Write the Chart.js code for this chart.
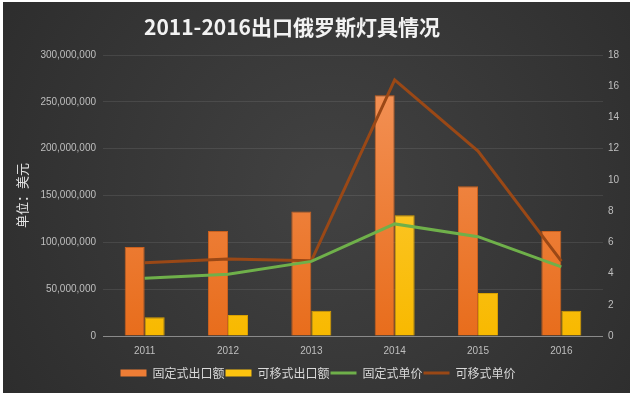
<!DOCTYPE html>
<html>
<head>
<meta charset="utf-8">
<script src="https://cdn.jsdelivr.net/npm/chart.js@4"></script>
<style>
html,body{margin:0;padding:0;background:#fff;}
#wrap{width:636px;height:399px;position:relative;}
</style>
</head>
<body>
<div id="wrap"><canvas id="c"></canvas></div>
<script>
const titleText = '2011-2016出口俄罗斯灯具情况';
const years = ['2011', '2012', '2013', '2014', '2015', '2016'];
const fixedExport = [95000000, 112000000, 133000000, 257000000, 160000000, 112000000];
const mobileExport = [20000000, 22500000, 27000000, 129000000, 46000000, 27000000];
const fixedPrice = [3.7, 3.95, 4.78, 7.18, 6.36, 4.43];
const mobilePrice = [4.7, 4.93, 4.82, 16.4, 11.85, 4.8];
const seriesNames = ['固定式出口额', '可移式出口额', '固定式单价', '可移式单价'];
const axisTitle = '单位：美元';

const FONT = "'Noto Sans CJK SC', 'Noto Sans', sans-serif";
const TICKFONT = "'Liberation Sans', 'Noto Sans', sans-serif";

function vGrad(ctx, top, bottom) {
  const chart = ctx.chart;
  const area = chart.chartArea;
  if (!area) return bottom;
  const g = chart.ctx.createLinearGradient(0, area.top, 0, area.bottom);
  g.addColorStop(0, top);
  g.addColorStop(1, bottom);
  return g;
}

const bgPlugin = {
  id: 'bg',
  beforeDraw(chart) {
    const c = chart.ctx;
    c.save();
    c.fillStyle = '#ffffff';
    c.fillRect(0, 0, chart.width, chart.height);
    const g = c.createRadialGradient(330, 190, 20, 330, 190, 420);
    g.addColorStop(0, '#414141');
    g.addColorStop(1, '#2b2b2b');
    c.fillStyle = g;
    c.fillRect(3, 2, 627, 391);
    c.restore();
  }
};

const titlePlugin = {
  id: 'customTitle',
  afterDraw(chart) {
    const c = chart.ctx;
    c.save();
    c.font = "bold 21px " + FONT;
    c.fillStyle = '#f2f2f2';
    c.textAlign = 'center';
    c.textBaseline = 'middle';
    c.fillText(titleText, 292, 27);
    c.restore();
  }
};

new Chart(document.getElementById('c'), {
  type: 'bar',
  data: {
    labels: years,
    datasets: [
      {
        type: 'bar', label: seriesNames[0], data: fixedExport, yAxisID: 'y', order: 2,
        backgroundColor: (ctx) => vGrad(ctx, '#f4955c', '#e86d1c'),
        borderColor: '#c9601e', borderWidth: 1,
        barPercentage: 1, categoryPercentage: 0.48
      },
      {
        type: 'bar', label: seriesNames[1], data: mobileExport, yAxisID: 'y', order: 2,
        backgroundColor: (ctx) => vGrad(ctx, '#ffd24a', '#f8b900'),
        borderColor: '#d9a000', borderWidth: 1,
        barPercentage: 1, categoryPercentage: 0.48
      },
      {
        type: 'line', label: seriesNames[2], data: fixedPrice, yAxisID: 'y1', order: 0,
        borderColor: '#6fb04a', backgroundColor: '#6fb04a', borderWidth: 3,
        pointRadius: 0, tension: 0
      },
      {
        type: 'line', label: seriesNames[3], data: mobilePrice, yAxisID: 'y1', order: 0,
        borderColor: '#9a4816', backgroundColor: '#9a4816', borderWidth: 3,
        pointRadius: 0, tension: 0
      }
    ]
  },
  options: {
    responsive: true,
    maintainAspectRatio: false,
    animation: false,
    layout: { padding: { top: 55, bottom: 10, left: 0, right: 0 } },
    plugins: {
      title: { display: false },
      tooltip: { enabled: false },
      legend: {
        position: 'bottom',
        labels: {
          color: '#d9d9d9',
          font: { family: FONT, size: 12 },
          usePointStyle: true,
          pointStyleWidth: 26,
          boxHeight: 7,
          padding: 1,
          sort: (a, b) => a.datasetIndex - b.datasetIndex,
          generateLabels(chart) {
            const items = Chart.defaults.plugins.legend.labels.generateLabels(chart);
            items.forEach((it) => {
              const ds = chart.data.datasets[it.datasetIndex];
              if (ds.type === 'line') {
                it.pointStyle = 'line';
                it.lineWidth = 3;
                it.strokeStyle = ds.borderColor;
                it.fillStyle = ds.borderColor;
              } else {
                it.pointStyle = 'rect';
                it.lineWidth = 0;
                it.fillStyle = it.datasetIndex === 0 ? '#ee7d35' : '#fcc30f';
                it.strokeStyle = 'rgba(0,0,0,0)';
              }
            });
            return items;
          }
        }
      }
    },
    scales: {
      x: {
        grid: { display: false, drawTicks: false },
        border: { display: false },
        ticks: { color: '#bfbfbf', font: { family: TICKFONT, size: 10 }, padding: 9 },
        afterFit(s) { s.height = 30; }
      },
      y: {
        position: 'left',
        min: 0, max: 300000000,
        ticks: {
          stepSize: 50000000,
          color: '#bfbfbf',
          font: { family: TICKFONT, size: 10 },
          padding: 7,
          callback: (v) => Number(v).toLocaleString('en-US')
        },
        grid: {
          drawTicks: false,
          color: (ctx) => (ctx.tick && ctx.tick.value === 0) ? '#8a8a8a' : 'rgba(255,255,255,0.09)',
          lineWidth: 1
        },
        border: { display: false },
        title: {
          display: true, text: axisTitle, color: '#e6e6e6',
          font: { family: FONT, size: 13 },
          padding: { top: 14, bottom: 4 }
        },
        afterFit(s) { s.width = 103; }
      },
      y1: {
        position: 'right',
        min: 0, max: 18,
        ticks: {
          stepSize: 2,
          color: '#bfbfbf',
          font: { family: TICKFONT, size: 10 },
          padding: 5
        },
        grid: { display: false, drawTicks: false },
        border: { display: false },
        afterFit(s) { s.width = 33; }
      }
    }
  },
  plugins: [bgPlugin, titlePlugin]
});
</script>
</body>
</html>
